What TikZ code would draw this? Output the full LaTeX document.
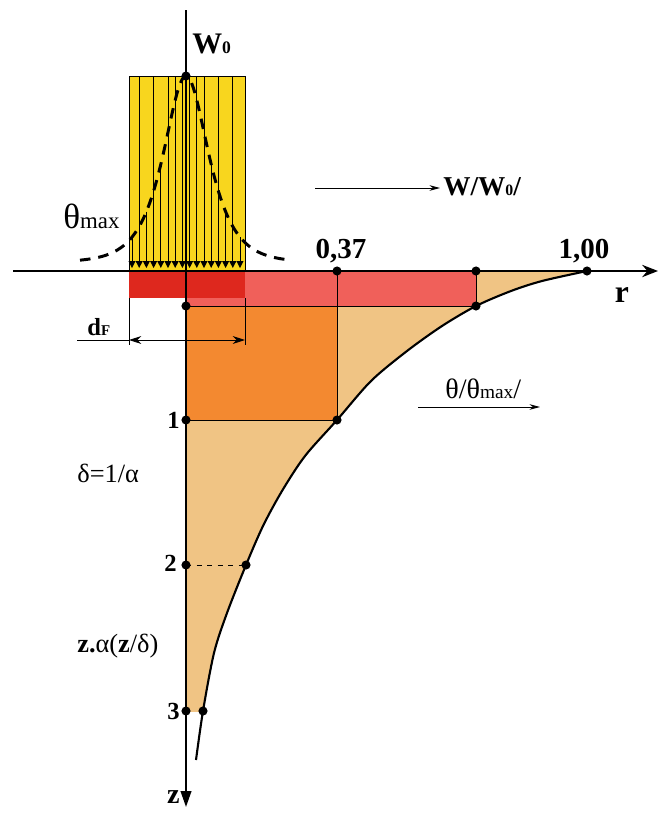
\documentclass[tikz,border=0pt]{standalone}
\usepackage{fontspec}
\setmainfont{Liberation Serif}
\usetikzlibrary{arrows.meta,calc}
\definecolor{beamYellow} {RGB}{248, 214,  30}
\definecolor{heatRed}    {RGB}{222,  40,  30}
\definecolor{heatSalmon} {RGB}{240,  96,  90}
\definecolor{heatOrange} {RGB}{243, 137,  48}
\definecolor{heatTan}    {RGB}{240, 196, 132}
\tikzset{
  dot/.style={circle,fill=black,inner sep=0pt,minimum size=5.2pt},
  axisline/.style={line width=1.1pt},
  thinline/.style={line width=0.5pt},
  lbl/.style={inner sep=0pt},
}

\begin{document}
\begin{tikzpicture}[x=0.02cm,y=-0.02cm]
  \useasboundingbox (0,0) rectangle (660,819);

  % profile below the surface
  \begin{scope}
    \clip (0,0) rectangle (660,711);
    \fill[heatTan] (186,271) -- plot[smooth] coordinates {(587,271) (542,281)
      (511,291) (476,306) (442,326) (407,351) (371,381) (337,420) (305,456)
      (282,491) (263,526) (246,565) (227,613) (214,653) (203,711) (196,760)}
      -- (186,760) -- cycle;
  \end{scope}
  \draw[thinline,fill=heatSalmon] (186,271) rectangle (476,306);
  \draw[thinline,fill=heatOrange] (186,306) rectangle (337,420);
  \draw[thinline] (337,271) -- (337,306);
  \fill[heatRed] (129,271) rectangle (245,298);

  % beam
  \draw[thinline,fill=beamYellow] (129,76) rectangle (245,271);
  \foreach \dx in {-46.8,-32.4,-18,-10.8,-3.6,3.6,10.8,18,32.4,46.8}
    \draw[thinline] ({186+\dx},76) -- ({186+\dx},262);
  \foreach \dx in {-54,-39.6,-25.2,25.2,39.6,54}{
    \pgfmathsetmacro\ytop{262-372/(exp(\dx/20)+exp(-\dx/20))}
    \draw[thinline] ({186+\dx},\ytop) -- ({186+\dx},262);
  }
  \foreach \dx in {-54,-46.8,...,54}
    \fill ({186+\dx-3.6},261) -- ({186+\dx+3.6},261) -- ({186+\dx},268) -- cycle;
  \draw[line width=1.7pt,dash pattern=on 6pt off 4.5pt]
    plot[domain=-106:106,samples=90,smooth]
    ({186+\x},{262-372/(exp(\x/20)+exp(-\x/20))});

  \draw[line width=1.2pt] plot[smooth] coordinates {(587,271) (542,281)
    (511,291) (476,306) (442,326) (407,351) (371,381) (337,420) (305,456)
    (282,491) (263,526) (246,565) (227,613) (214,653) (203,711) (196,760)};

  % axes
  \coordinate (rStart) at (13,271);
  \coordinate (rEnd) at (658,271);
  \coordinate (zStart) at (186,10);
  \coordinate (zEnd) at (186,807);
  \draw[axisline,-{Stealth[length=9pt,width=7pt]}] (rStart) -- (rEnd);
  \draw[axisline,-{Triangle[length=9pt,width=6pt]}] (zStart) -- (zEnd);

  \node[dot] (top) at (186,76) {};
  \node[dot] (r37) at (337,271) {};
  \node[dot] (r72) at (476,271) {};
  \node[dot] (r100) at (587,271) {};
  \node[dot] (c72) at (476,306) {};
  \node[dot] (z0) at (186,306) {};
  \node[dot] (z1) at (186,420) {};
  \node[dot] (c37) at (337,420) {};
  \node[dot] (z2) at (186,565) {};
  \node[dot] (c2) at (246,565) {};
  \node[dot] (z3) at (186,711) {};
  \node[dot] (c3) at (203,711) {};
  \draw[thinline,dashed] (z2.center) -- (c2.center);

  % d_F width
  \coordinate (dLeftTop) at (129,298);
  \coordinate (dRightTop) at (245,298);
  \coordinate (dLeft) at (129,340);
  \coordinate (dRight) at (245,340);
  \coordinate (dTail) at (77,340);
  \draw[thinline] (dLeftTop) -- ++(0,47);
  \draw[thinline] (dRightTop) -- ++(0,47);
  \draw[thinline] (dTail) -- (dLeft);
  \draw[thinline,{Stealth[length=7pt,width=4.5pt]}-{Stealth[length=7pt,width=4.5pt]}]
    (dLeft) -- (dRight);

  % direction arrows
  \coordinate (wArrA) at (315,188);
  \coordinate (wArrB) at (440,188);
  \coordinate (tArrA) at (418,407);
  \coordinate (tArrB) at (540,407);
  \draw[thinline,-{Stealth[length=6pt,width=3.2pt]}] (wArrA) -- (wArrB);
  \draw[thinline,-{Stealth[length=6pt,width=3.2pt]}] (tArrA) -- (tArrB);

  % labels
  \node[lbl,anchor=base west,font=\bfseries\fontsize{17}{20}\selectfont] (lblWo)
    at (192,53) {W{\fontsize{10}{10}\selectfont 0}};
  \node[lbl,anchor=base west,font=\bfseries\fontsize{15.5}{18}\selectfont] (lblWratio)
    at (443,195) {W/W{\fontsize{9}{9}\selectfont 0}/};
  \node[lbl,anchor=base west,font=\fontsize{20}{22}\selectfont] (lblTmax)
    at (63,228) {θ{\fontsize{13}{13}\selectfont max}};
  \node[lbl,anchor=base,font=\bfseries\fontsize{16.5}{18}\selectfont] (lbl37)
    at (341,258) {0,37};
  \node[lbl,anchor=base,font=\bfseries\fontsize{16.5}{18}\selectfont] (lbl100)
    at (584,258) {1,00};
  \node[lbl,anchor=base,font=\bfseries\fontsize{18}{20}\selectfont] (lblR)
    at (622,302) {r};
  \node[lbl,anchor=base west,font=\bfseries\fontsize{14}{16}\selectfont] (lblDF)
    at (87,335) {d{\fontsize{8.5}{9}\selectfont F}};
  \node[lbl,anchor=base west,font=\fontsize{16}{18}\selectfont] (lblTratio)
    at (445,398) {θ/θ{\fontsize{11}{11}\selectfont max}/};
  \node[lbl,anchor=base west,font=\fontsize{15}{18}\selectfont] (lblDelta)
    at (77,482) {δ=1/α};
  \node[lbl,anchor=base west,font=\fontsize{15}{18}\selectfont] (lblZa)
    at (77,652) {\textbf{z.}α(\textbf{z}/δ)};
  \node[lbl,anchor=east,font=\bfseries\fontsize{14}{16}\selectfont] (lbl1)
    at (180,420) {1};
  \node[lbl,anchor=east,font=\bfseries\fontsize{14}{16}\selectfont] (lbl2)
    at (177,563) {2};
  \node[lbl,anchor=east,font=\bfseries\fontsize{14}{16}\selectfont] (lbl3)
    at (180,711) {3};
  \node[lbl,anchor=base east,font=\bfseries\fontsize{16}{18}\selectfont] (lblZ)
    at (180,803) {z};
\end{tikzpicture}
\end{document}
